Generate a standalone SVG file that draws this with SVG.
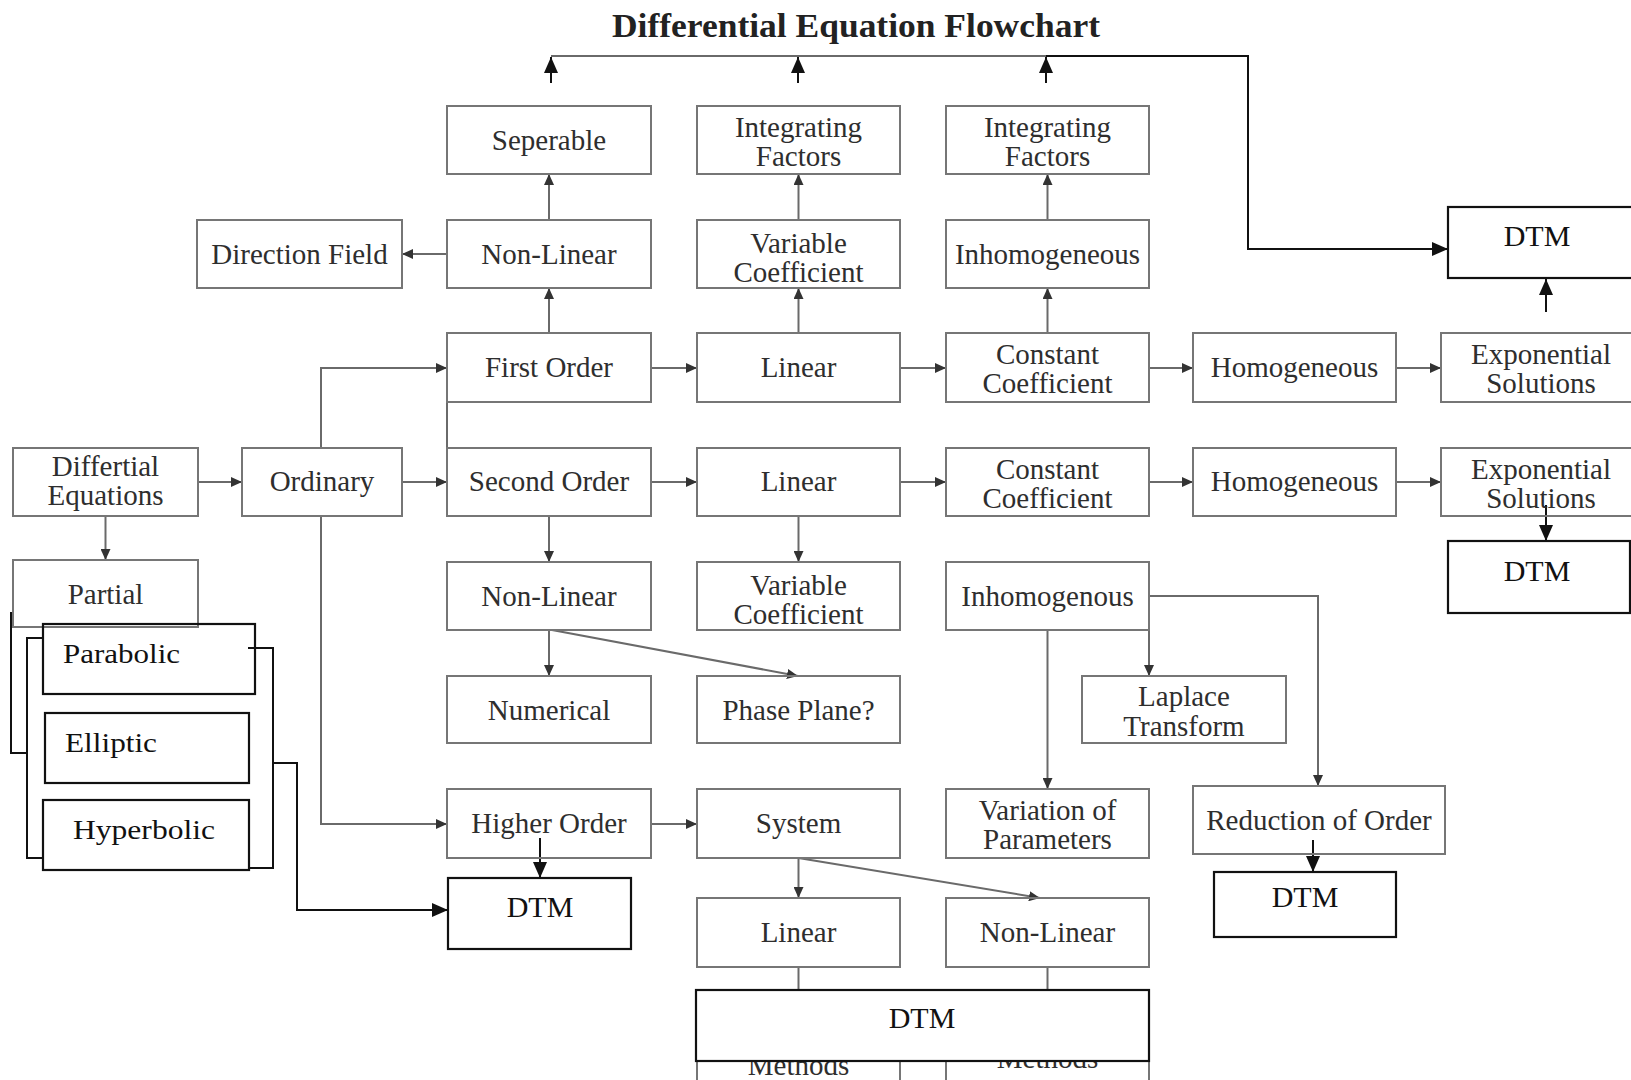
<svg xmlns="http://www.w3.org/2000/svg" width="1631" height="1080" viewBox="0 0 1631 1080">
<style>
.box{fill:none;stroke:#767676;stroke-width:2}
.bb{fill:#fff;stroke:#111;stroke-width:2.2}
.bn{fill:none;stroke:#111;stroke-width:2.2}
.t{font-family:"Liberation Serif","Times New Roman",serif;font-size:29px;fill:#2e2e2e;text-anchor:middle}
.d{font-family:"Liberation Serif","Times New Roman",serif;font-size:30px;fill:#111;text-anchor:middle}
.p{font-family:"Liberation Serif","Times New Roman",serif;font-size:28px;fill:#111}
.c{fill:none;stroke:#6a6a6a;stroke-width:2}
.k{fill:none;stroke:#111;stroke-width:2}
</style>
<defs>
<marker id="ag" markerUnits="userSpaceOnUse" markerWidth="11" markerHeight="10" refX="11" refY="5" orient="auto"><path d="M0,0 L11,5 L0,10 z" fill="#333"/></marker>
<marker id="ak" markerUnits="userSpaceOnUse" markerWidth="16" markerHeight="14" refX="16" refY="7" orient="auto"><path d="M0,0 L16,7 L0,14 z" fill="#111"/></marker>
</defs>
<rect width="1631" height="1080" fill="#fff"/>
<text x="856" y="37" font-family="'Liberation Serif','Times New Roman',serif" font-size="33" font-weight="bold" fill="#222" text-anchor="middle" textLength="488" lengthAdjust="spacingAndGlyphs">Differential Equation Flowchart</text>

<g id="connectors">
<path class="c" d="M551,56 H1046" stroke="#444" stroke-width="2.6"/>
<path class="k" d="M1046,56 H1248 V249 H1448" marker-end="url(#ak)"/>
<path class="k" d="M551,83 V57" marker-end="url(#ak)"/>
<path class="k" d="M798,83 V57" marker-end="url(#ak)"/>
<path class="k" d="M1046,83 V57" marker-end="url(#ak)"/>
<path class="k" d="M1546,312 V279" marker-end="url(#ak)"/>
<path class="k" d="M1546,505 V541" marker-end="url(#ak)"/>
<path class="c" d="M549,220 V174" marker-end="url(#ag)"/>
<path class="c" d="M549,333 V288" marker-end="url(#ag)"/>
<path class="c" d="M798.5,220 V174" marker-end="url(#ag)"/>
<path class="c" d="M798.5,333 V288" marker-end="url(#ag)"/>
<path class="c" d="M1047.5,220 V174" marker-end="url(#ag)"/>
<path class="c" d="M1047.5,333 V288" marker-end="url(#ag)"/>
<path class="c" d="M447,254 H402" marker-end="url(#ag)"/>
<path class="c" d="M651,368 H697" marker-end="url(#ag)"/>
<path class="c" d="M900,368 H946" marker-end="url(#ag)"/>
<path class="c" d="M1149,368 H1193" marker-end="url(#ag)"/>
<path class="c" d="M1396,368 H1441" marker-end="url(#ag)"/>
<path class="c" d="M198,482 H242" marker-end="url(#ag)"/>
<path class="c" d="M402,482 H447" marker-end="url(#ag)"/>
<path class="c" d="M651,482 H697" marker-end="url(#ag)"/>
<path class="c" d="M900,482 H946" marker-end="url(#ag)"/>
<path class="c" d="M1149,482 H1193" marker-end="url(#ag)"/>
<path class="c" d="M1396,482 H1441" marker-end="url(#ag)"/>
<path class="c" d="M321,448 V368 H447" marker-end="url(#ag)"/>
<path class="c" d="M321,516 V824 H447" marker-end="url(#ag)"/>
<path class="c" d="M447,402 V448"/>
<path class="c" d="M105.5,516 V560" marker-end="url(#ag)"/>
<path class="c" d="M549,516 V562" marker-end="url(#ag)"/>
<path class="c" d="M798.5,516 V562" marker-end="url(#ag)"/>
<path class="c" d="M549,630 V676" marker-end="url(#ag)"/>
<path class="c" d="M552,630 L798,676" marker-end="url(#ag)"/>
<path class="c" d="M1149,630 V676" marker-end="url(#ag)"/>
<path class="c" d="M1047.5,630 V789" marker-end="url(#ag)"/>
<path class="c" d="M1149,596 H1318 V786" marker-end="url(#ag)"/>
<path class="c" d="M651,824 H697" marker-end="url(#ag)"/>
<path class="c" d="M798.5,858 V898" marker-end="url(#ag)"/>
<path class="c" d="M798.5,858 L1040,898" marker-end="url(#ag)"/>
<path class="c" d="M798.5,967 V990"/>
<path class="c" d="M1047.5,967 V990"/>
<path class="k" d="M540,838 V878" marker-end="url(#ak)"/>
<path class="k" d="M1313,840 V872" marker-end="url(#ak)"/>
<path class="k" d="M273,763 H297 V910 H448" marker-end="url(#ak)"/>
<path class="k" d="M11,612 V753 H27"/>
<path class="k" d="M43,638 H27 V858 H43"/>
<path class="k" d="M248,648 H273 V868 H250"/>
</g>

<g id="seperable"><rect class="box" x="447" y="106" width="204" height="68"/><text class="t" x="549" y="150">Seperable</text></g>
<g id="if1"><rect class="box" x="697" y="106" width="203" height="68"/><text class="t" x="798.5" y="137">Integrating</text><text class="t" x="798.5" y="166">Factors</text></g>
<g id="if2"><rect class="box" x="946" y="106" width="203" height="68"/><text class="t" x="1047.5" y="137">Integrating</text><text class="t" x="1047.5" y="166">Factors</text></g>

<g id="dirfield"><rect class="box" x="197" y="220" width="205" height="68"/><text class="t" x="299.5" y="264">Direction Field</text></g>
<g id="nonlin1"><rect class="box" x="447" y="220" width="204" height="68"/><text class="t" x="549" y="264">Non-Linear</text></g>
<g id="varcoef1"><rect class="box" x="697" y="220" width="203" height="68"/><text class="t" x="798.5" y="253">Variable</text><text class="t" x="798.5" y="282">Coefficient</text></g>
<g id="inhom1"><rect class="box" x="946" y="220" width="203" height="68"/><text class="t" x="1047.5" y="264">Inhomogeneous</text></g>
<g id="dtm1"><rect class="bn" x="1448" y="207" width="200" height="71"/><text class="d" x="1537" y="246">DTM</text></g>

<g id="first"><rect class="box" x="447" y="333" width="204" height="69"/><text class="t" x="549" y="377">First Order</text></g>
<g id="lin1"><rect class="box" x="697" y="333" width="203" height="69"/><text class="t" x="798.5" y="377">Linear</text></g>
<g id="const1"><rect class="box" x="946" y="333" width="203" height="69"/><text class="t" x="1047.5" y="364">Constant</text><text class="t" x="1047.5" y="393">Coefficient</text></g>
<g id="homo1"><rect class="box" x="1193" y="333" width="203" height="69"/><text class="t" x="1294.5" y="377">Homogeneous</text></g>
<g id="exp1"><rect class="box" x="1441" y="333" width="200" height="69"/><text class="t" x="1541" y="364">Exponential</text><text class="t" x="1541" y="393">Solutions</text></g>

<g id="diffeq"><rect class="box" x="13" y="448" width="185" height="68"/><text class="t" x="105.5" y="476">Differtial</text><text class="t" x="105.5" y="505">Equations</text></g>
<g id="ordinary"><rect class="box" x="242" y="448" width="160" height="68"/><text class="t" x="322" y="491">Ordinary</text></g>
<g id="second"><rect class="box" x="447" y="448" width="204" height="68"/><text class="t" x="549" y="491">Second Order</text></g>
<g id="lin2"><rect class="box" x="697" y="448" width="203" height="68"/><text class="t" x="798.5" y="491">Linear</text></g>
<g id="const2"><rect class="box" x="946" y="448" width="203" height="68"/><text class="t" x="1047.5" y="479">Constant</text><text class="t" x="1047.5" y="508">Coefficient</text></g>
<g id="homo2"><rect class="box" x="1193" y="448" width="203" height="68"/><text class="t" x="1294.5" y="491">Homogeneous</text></g>
<g id="exp2"><rect class="box" x="1441" y="448" width="200" height="68"/><text class="t" x="1541" y="479">Exponential</text><text class="t" x="1541" y="508">Solutions</text></g>
<g id="dtm2"><rect class="bn" x="1448" y="541" width="182" height="72"/><text class="d" x="1537" y="581">DTM</text></g>

<g id="partial"><rect class="box" x="13" y="560" width="185" height="67"/><text class="t" x="105.5" y="604">Partial</text></g>
<g id="nonlin2"><rect class="box" x="447" y="562" width="204" height="68"/><text class="t" x="549" y="606">Non-Linear</text></g>
<g id="varcoef2"><rect class="box" x="697" y="562" width="203" height="68"/><text class="t" x="798.5" y="595">Variable</text><text class="t" x="798.5" y="624">Coefficient</text></g>
<g id="inhom2"><rect class="box" x="946" y="562" width="203" height="68"/><text class="t" x="1047.5" y="606">Inhomogenous</text></g>

<g id="parabolic"><rect class="bn" x="43" y="624" width="212" height="70"/><text class="p" x="63" y="663" textLength="117" lengthAdjust="spacingAndGlyphs">Parabolic</text></g>
<g id="elliptic"><rect class="bn" x="45" y="713" width="204" height="70"/><text class="p" x="65" y="752" textLength="92" lengthAdjust="spacingAndGlyphs">Elliptic</text></g>
<g id="hyperbolic"><rect class="bn" x="43" y="800" width="206" height="70"/><text class="p" x="73" y="839" textLength="142" lengthAdjust="spacingAndGlyphs">Hyperbolic</text></g>

<g id="numerical"><rect class="box" x="447" y="676" width="204" height="67"/><text class="t" x="549" y="720">Numerical</text></g>
<g id="phase"><rect class="box" x="697" y="676" width="203" height="67"/><text class="t" x="798.5" y="720">Phase Plane?</text></g>
<g id="laplace"><rect class="box" x="1082" y="676" width="204" height="67"/><text class="t" x="1184" y="706">Laplace</text><text class="t" x="1184" y="736">Transform</text></g>

<g id="higher"><rect class="box" x="447" y="789" width="204" height="69"/><text class="t" x="549" y="833">Higher Order</text></g>
<g id="system"><rect class="box" x="697" y="789" width="203" height="69"/><text class="t" x="798.5" y="833">System</text></g>
<g id="variation"><rect class="box" x="946" y="789" width="203" height="69"/><text class="t" x="1047.5" y="820">Variation of</text><text class="t" x="1047.5" y="849">Parameters</text></g>
<g id="reduction"><rect class="box" x="1193" y="786" width="252" height="68"/><text class="t" x="1319" y="830">Reduction of Order</text></g>
<g id="dtm3"><rect class="bn" x="448" y="878" width="183" height="71"/><text class="d" x="540" y="917">DTM</text></g>
<g id="dtm4"><rect class="bn" x="1214" y="872" width="182" height="65"/><text class="d" x="1305" y="907">DTM</text></g>

<g id="lin3"><rect class="box" x="697" y="898" width="203" height="69"/><text class="t" x="798.5" y="942">Linear</text></g>
<g id="nonlin3"><rect class="box" x="946" y="898" width="203" height="69"/><text class="t" x="1047.5" y="942">Non-Linear</text></g>

<g id="methods1"><rect class="box" x="697" y="1012" width="203" height="80"/><text class="t" x="798.5" y="1075">Methods</text></g>
<g id="methods2"><rect class="box" x="946" y="1012" width="203" height="80"/><text class="t" x="1047.5" y="1068">Methods</text></g>
<g id="dtm5"><rect class="bb" x="696" y="990" width="453" height="71"/><text class="d" x="922" y="1028">DTM</text></g>
</svg>
